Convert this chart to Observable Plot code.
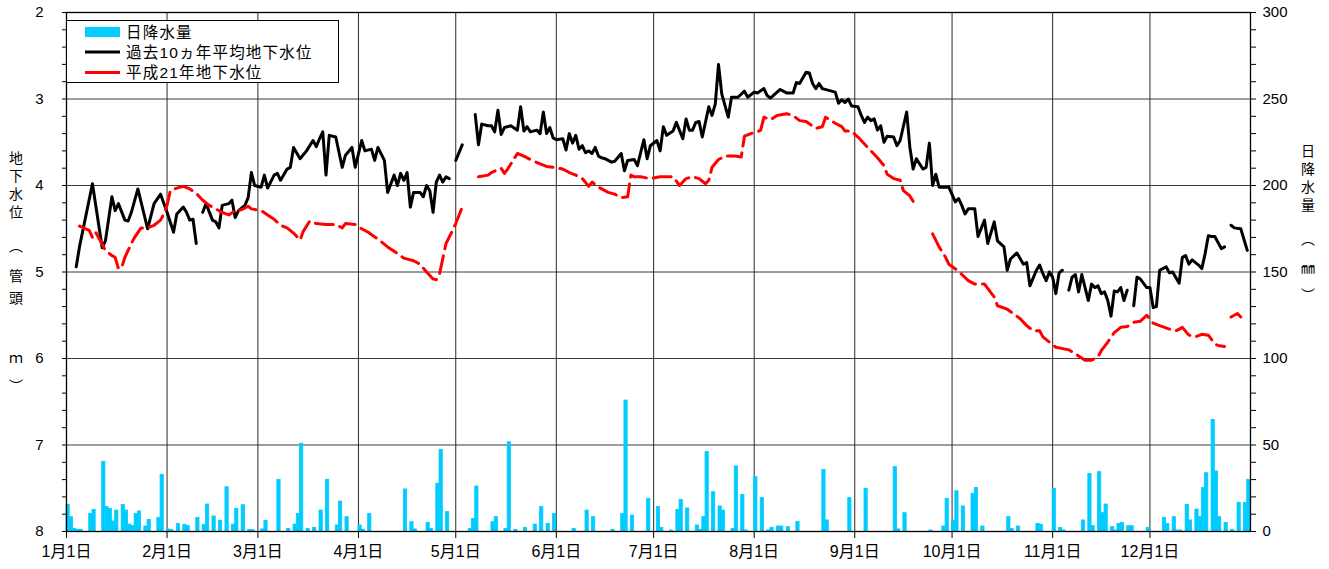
<!DOCTYPE html>
<html><head><meta charset="utf-8">
<script src="https://cdn.jsdelivr.net/npm/d3@7"></script>
<script src="https://cdn.jsdelivr.net/npm/@observablehq/plot@0.6"></script>
<style>
body{margin:0;background:#fff;}
#wrap{position:relative;width:1329px;height:569px;overflow:hidden;}
</style></head><body><div id="wrap"></div>
<script>
// ---- data ----
const monthDays = [0,31,59,90,120,151,181,212,243,273,304,334];
const monthLabels = ["1月1日","2月1日","3月1日","4月1日","5月1日","6月1日","7月1日","8月1日","9月1日","10月1日","11月1日","12月1日"];
const levelTicks = [2,3,4,5,6,7,8];
const rainTickLabels = ["300","250","200","150","100","50","0"];
const legendLabels = ["日降水量","過去10ヵ年平均地下水位","平成21年地下水位"];
const leftTitleChars = ["地","下","水","位","︵","管","頭","ｍ","︶"];
const rightTitleChars = ["日","降","水","量","︵","㎜","︶"];

// 過去10ヵ年平均地下水位 (day of year, m)
const avgDay = [3,4,8,11,12,14,15,16,18,19,20,22,25,27,29,31,33,34,36,37,38,39,40,41,
42,43,45,46,47,48,50,51,52,53,55,56,57,58,60,61,62,64,65,66,68,69,70,72,74,76,77,78,79,80,81,83,85,86,88,89,91,92,94,95,96,98,99,101,102,103,104,105,106,107,109,110,111,112,113,114,115,116,117,118,119,
120,121,122,123,
126,127,128,130,131,132,133,134,135,137,139,140,141,142,143,145,146,147,148,149,150,151,153,154,155,156,157,158,159,160,161,162,163,164,165,166,168,169,171,172,173,175,176,178,179,180,182,183,184,185,187,188,190,191,192,193,194,195,196,198,199,200,201,202,204,205,207,209,210,212,213,215,216,217,220,222,224,225,226,228,229,230,231,232,233,235,237,238,239,240,241,242,244,245,246,247,248,249,250,251,252,253,255,256,257,259,260,261,262,264,265,266,267,268,269,272,274,275,276,277,278,280,281,283,284,286,287,289,290,291,293,295,296,297,299,300,301,302,303,304,305,306,307,308,
309,310,311,312,313,315,316,317,318,319,320,321,322,323,324,325,326,327,328,
329,330,331,333,334,335,336,337,339,340,341,343,344,345,346,347,349,350,351,352,353,354,356,357,358,
359,360,362,364];
const avgLevel = [4.94,4.71,3.98,4.72,4.64,4.13,4.29,4.21,4.40,4.41,4.31,4.04,4.50,4.21,4.10,4.31,4.54,4.33,4.25,4.31,4.40,4.39,4.67,null,
4.31,4.21,4.40,4.42,4.49,4.23,4.21,4.17,4.37,4.29,4.23,4.14,3.85,4.00,4.02,3.88,4.03,3.88,3.86,3.94,3.81,3.79,3.56,3.69,3.60,3.48,3.55,3.46,3.38,3.88,3.42,3.44,3.79,3.65,3.56,3.79,3.48,3.60,3.58,3.71,3.56,3.71,4.08,3.88,4.00,3.86,3.94,3.85,4.25,4.08,4.08,4.13,4.00,4.06,4.31,3.96,3.88,3.96,3.90,3.92,null,
3.71,3.62,3.53,null,
3.18,3.53,3.29,3.31,3.31,3.38,3.13,3.41,3.33,3.31,3.36,3.09,3.37,3.32,3.38,3.36,3.40,3.15,3.40,3.33,3.45,3.47,3.46,3.59,3.40,3.51,3.42,3.58,3.54,3.62,3.60,3.63,3.56,3.66,3.68,3.69,3.73,3.72,3.63,3.83,3.71,3.70,3.77,3.47,3.69,3.54,3.48,3.60,3.32,3.42,3.37,3.27,3.46,3.23,3.36,3.36,3.27,3.26,3.44,3.09,3.19,3.06,2.60,2.94,3.21,2.98,2.98,2.91,2.98,2.92,2.93,2.88,2.96,2.99,2.89,2.93,2.93,2.81,2.82,2.69,2.70,2.82,2.88,2.82,2.88,2.90,2.92,3.05,3.01,3.04,3.00,3.08,3.09,3.19,3.27,3.21,3.25,3.23,3.36,3.31,3.50,3.43,3.44,3.54,3.48,3.15,3.56,3.81,3.69,3.81,3.79,3.51,4.00,3.87,4.02,4.02,4.19,4.15,4.23,4.33,4.27,4.27,4.59,4.40,4.67,4.42,4.64,4.71,4.98,4.85,4.78,4.91,4.89,5.16,4.98,4.92,5.02,5.10,5.00,5.06,5.25,5.01,4.98,null,
5.21,5.06,5.03,5.23,5.03,5.33,5.14,5.18,5.16,5.25,5.23,5.33,5.51,5.22,5.23,5.18,5.33,5.21,null,
5.39,5.06,5.08,5.18,5.18,5.41,5.40,4.98,4.94,5.01,5.00,5.13,4.83,4.81,4.91,4.86,4.92,4.96,4.79,4.58,4.59,4.59,4.73,4.71,null,
4.46,4.49,4.50,4.75];

// 平成21年地下水位 (day of year, m)
const h21Day = [4,7,8,9,12,14,15,16,17,18,20,21,23,25,27,29,30,31,32,34,36,38,40,42,44,46,48,50,52,54,56,57,60,62,64,66,68,70,72,73,75,77,80,83,85,86,89,91,93,96,99,101,104,107,109,111,113,114,115,117,119,120,122,124,
127,130,131,134,135,136,139,141,143,146,148,150,153,155,157,159,161,162,164,167,169,171,173,174,175,177,180,183,185,187,189,191,193,195,197,198,199,201,203,206,208,209,211,213,214,215,217,219,222,224,226,228,231,232,233,234,237,239,240,242,244,246,248,250,252,253,255,257,258,260,262,264,
267,269,271,272,275,278,280,283,286,287,290,294,296,298,300,301,303,305,309,312,314,316,318,319,321,323,325,327,329,331,333,335,337,340,342,344,346,348,350,352,354,355,357,358,
359,361,362];
const h21Level = [4.47,4.52,4.60,4.54,4.75,4.81,4.83,4.96,4.95,4.83,4.67,4.60,4.49,4.49,4.46,4.40,4.33,4.23,4.06,4.03,4.01,4.04,4.09,4.17,4.23,4.27,4.31,4.34,4.29,4.28,4.24,4.27,4.29,4.34,4.39,4.46,4.49,4.55,4.63,4.53,4.41,4.44,4.45,4.45,4.49,4.44,4.45,4.50,4.54,4.62,4.71,4.76,4.84,4.87,4.91,5.00,5.08,5.09,5.02,4.67,4.52,4.44,4.25,null,
3.90,3.88,3.85,3.80,3.86,3.81,3.63,3.66,3.70,3.75,3.78,3.79,3.81,3.85,3.88,3.92,4.01,3.96,4.02,4.08,4.10,4.14,4.13,3.88,3.90,3.90,3.92,3.90,3.90,3.90,4.00,3.92,3.90,3.92,3.98,3.94,3.79,3.70,3.66,3.66,3.67,3.43,3.40,3.38,3.36,3.21,3.24,3.19,3.17,3.19,3.25,3.26,3.34,3.33,3.32,3.21,3.28,3.32,3.37,3.37,3.44,3.52,3.60,3.68,3.77,3.87,3.92,3.94,4.06,4.12,4.25,null,
4.56,4.71,4.83,4.91,4.99,5.10,5.14,5.14,5.29,5.39,5.43,5.54,5.62,5.68,5.68,5.75,5.81,5.87,5.90,5.97,6.02,6.02,5.98,5.91,5.81,5.70,5.64,5.63,5.58,5.57,5.50,5.59,5.62,5.66,5.68,5.64,5.73,5.75,5.72,5.73,5.83,5.85,5.86,null,
5.52,5.48,5.52];

// 日降水量 (day of year, mm)
const rainDay = [0,1,2,3,4,7,8,11,12,13,14,15,17,18,19,20,21,22,24,25,28,29,31,32,34,36,37,40,42,43,45,47,49,51,52,54,56,57,60,61,65,68,70,71,72,74,76,78,80,83,84,86,90,91,93,104,106,107,111,112,114,115,117,124,125,126,131,132,135,136,138,141,144,146,148,150,156,160,162,168,171,172,174,179,182,183,186,188,189,191,194,195,196,197,199,201,202,205,206,208,209,212,214,216,217,219,220,222,225,233,234,241,246,255,256,258,266,270,271,273,274,276,279,280,282,290,291,293,299,300,304,306,307,313,315,316,318,319,320,322,323,324,325,327,328,333,338,339,341,342,343,345,346,348,349,350,351,353,354,355,357,359,361,363,364];
const rainMm = [15.4,8.3,1.5,1,1,10.2,12.5,40.3,14.1,13.1,5.8,12.1,15.4,12.1,4,3.1,10.2,11.6,2.9,6.7,7.9,32.8,1.2,0.8,4.4,3.9,3.1,7.9,3.9,15.6,8.7,6.2,25.6,4,13.1,15.2,0.8,0.8,1.2,6.2,29.9,1.5,4,10.2,50.7,1.5,2.1,12.1,29.9,3.5,17.3,8.3,3.5,1,10.2,24.3,5.4,1.2,5,1.5,27.6,47.2,11.2,1.5,7.3,26,5.4,8.3,1.5,51.6,1,2.1,4,14.1,4.4,10.2,1.5,12.1,8.3,1,10.2,75.7,9.2,18.9,14.1,2.1,0.6,12.5,18.3,13.3,3.5,1,8.3,45.9,22.7,14.5,12.1,1.5,37.6,21.2,0.6,31.4,19.3,0.6,2.1,2.9,2.9,2.5,5.6,35.6,6.4,19.3,24.7,37.2,1.2,10.6,0.6,2.9,18.9,6,23.3,14.5,21.8,25.2,2.9,8.3,1.5,2.9,4.4,3.9,24.7,2.1,0.6,6.4,33.3,3.1,34.3,10.6,15.6,2.5,0.6,4.4,5,3.1,3.1,2.1,7.9,4.4,8.3,0.6,0.6,15.4,6.4,12.7,8.3,25.2,33.7,64.5,34.7,8.3,5,1,16.6,16.4,29.9];

// ---- build tables ----
const avg = avgDay.map((d,i)=>({d, v: avgLevel[i]}));
const h21 = h21Day.map((d,i)=>({d, v: h21Level[i]}));
const rain = rainDay.map((d,i)=>({d, mm: rainMm[i]}));
const toLevel = mm => 8 - mm/50;   // right axis (0-300mm) mapped onto left axis (8-2m)
const minor = d3.range(0,31).map(i=>+(2+i*0.2).toFixed(1));

const FONT = '"Liberation Sans",Arial,"Noto Sans CJK JP",sans-serif';
const chart = Plot.plot({
  width:1329, height:569,
  marginLeft:66, marginRight:79, marginTop:12, marginBottom:38,
  style:{fontFamily:FONT, fontSize:"15px", color:"#000", background:"#fff"},
  x:{type:"linear", domain:[0,365]},
  y:{domain:[8,2]},
  marks:[
    Plot.ruleY([3,4,5,6,7], {stroke:"#3a3a3a", strokeWidth:1}),
    Plot.ruleX(monthDays.slice(1), {stroke:"#2a2a2a", strokeWidth:1}),
    Plot.rect(rain, {x1:"d", x2:d=>d.d+1, y1:()=>8, y2:d=>toLevel(d.mm), fill:"#00ccff", stroke:"#00ccff", strokeWidth:0.8}),
    Plot.line(avg, {x:"d", y:"v", stroke:"#000", strokeWidth:3, strokeLinejoin:"round"}),
    Plot.line(h21, {x:"d", y:"v", stroke:"#ff0000", strokeWidth:3, strokeDasharray:"18,7"}),
    Plot.frame({stroke:"#000", strokeWidth:1.3}),
    Plot.axisY({anchor:"left", ticks:minor, tickSize:4, tickFormat:()=>"", label:null}),
    Plot.axisY({anchor:"left", ticks:levelTicks, tickSize:0, tickPadding:23, tickFormat:d=>String(d), label:null, fontSize:15}),
    Plot.axisY({anchor:"right", ticks:minor, tickSize:5, tickFormat:()=>"", label:null}),
    Plot.axisY({anchor:"right", ticks:levelTicks, tickSize:0, tickPadding:12, tickFormat:d=>rainTickLabels[levelTicks.indexOf(d)], label:null, fontSize:15}),
    Plot.axisX({ticks:monthDays, tickSize:7, tickPadding:7, tickFormat:d=>monthLabels[monthDays.indexOf(d)], label:null, fontSize:16})
  ]
});
document.getElementById("wrap").appendChild(chart);

// ---- overlay (legend & vertical axis titles) drawn into the same SVG ----
const svg = d3.select(chart);
const CJK = '"Noto Sans CJK JP","Liberation Sans",sans-serif';
const leftY = [157,175,193,211,245,275,297,357,385];
const rightY = [150,168,186,204,238,267,294];
const tl = svg.append("g").attr("font-family", CJK).attr("font-size", 14).attr("text-anchor","middle").attr("fill","#000");
leftTitleChars.forEach((c,i)=>tl.append("text").attr("x",16).attr("y",leftY[i]).attr("dominant-baseline","central").text(c));
rightTitleChars.forEach((c,i)=>tl.append("text").attr("x",1308).attr("y",rightY[i]).attr("dominant-baseline","central").text(c));

const lg = svg.append("g").attr("text-anchor","start");
lg.append("rect").attr("x",66.5).attr("y",20.5).attr("width",272).attr("height",62).attr("fill","#fff").attr("stroke","#000").attr("stroke-width",1);
lg.append("rect").attr("x",85).attr("y",27).attr("width",35).attr("height",10).attr("fill","#00ccff").attr("stroke","none");
lg.append("line").attr("x1",85).attr("x2",120).attr("y1",52).attr("y2",52).attr("stroke","#000").attr("stroke-width",3);
lg.append("line").attr("x1",85).attr("x2",120).attr("y1",72.5).attr("y2",72.5).attr("stroke","#ff0000").attr("stroke-width",3);
[32,52,72].forEach((y,i)=>lg.append("text").attr("x",126).attr("y",y).attr("dominant-baseline","central").attr("text-anchor","start")
  .attr("font-family",FONT).attr("font-size",15.5).attr("letter-spacing",1.2).attr("fill","#000").text(legendLabels[i]));
</script>
</body></html>
